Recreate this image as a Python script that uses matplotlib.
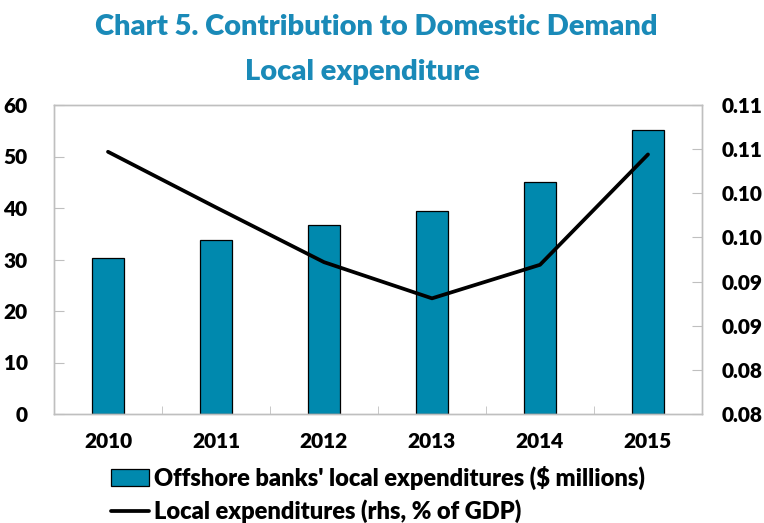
import matplotlib
matplotlib.use("Agg")
import matplotlib.pyplot as plt
import numpy as np

# ── Data ──────────────────────────────────────────────────────────────────────

years = ["2010", "2011", "2012", "2013", "2014", "2015"]
bank_spend = [30.3, 33.8, 36.7, 39.5, 45.1, 55.1]              # $ millions (lhs)
gdp_share = [0.1097, 0.1034, 0.0972, 0.0931, 0.0969, 0.1094]  # % of GDP (rhs)
lhs_ticks = [0, 10, 20, 30, 40, 50, 60]
rhs_ticks = [0.080, 0.085, 0.090, 0.095, 0.100, 0.105, 0.110, 0.115]
rhs_labels = ["0.08", "0.08", "0.09", "0.09", "0.10", "0.10", "0.11", "0.11"]

# ── Style ─────────────────────────────────────────────────────────────────────

BAR = "#0089AE"
TITLE = "#1A8AB8"
SPINE = "#BFBFBF"
FONT = ["Lato", "DejaVu Sans"]

fig = plt.figure(figsize=(7.64, 5.23), dpi=100)
ax = fig.add_axes([54 / 764, 1 - 414 / 523, 648 / 764, 309 / 523])
ax2 = ax.twinx()

x = np.arange(len(years))
ax.bar(x, bank_spend, width=0.30, color=BAR, edgecolor="black", linewidth=0.9,
       label="Offshore banks' local expenditures ($ millions)", zorder=2)
ax2.plot(x, gdp_share, color="black", linewidth=2.7, solid_capstyle="round",
         label="Local expenditures (rhs, % of GDP)")

ax.set_xlim(-0.5, len(years) - 0.5)
ax.set_ylim(0, 60)
ax2.set_ylim(0.080, 0.115)

ax.set_xticks(x)
ax.set_xticklabels(years, fontfamily=FONT, fontweight="heavy", fontsize=15)
ax.set_xticks(np.arange(0.5, len(years) - 1, 1), minor=True)
ax.tick_params(axis="x", which="major", length=0, pad=13)
ax.tick_params(axis="x", which="minor", direction="in", length=6, color=SPINE)

ax.set_yticks(lhs_ticks)
ax.set_yticklabels([str(t) for t in lhs_ticks], fontfamily=FONT,
                   fontweight="heavy", fontsize=15)
ax.tick_params(axis="y", direction="in", length=7, color=SPINE, pad=19)

ax2.set_yticks(rhs_ticks)
ax2.set_yticklabels(rhs_labels, fontfamily=FONT, fontweight="heavy", fontsize=15)
ax2.tick_params(axis="y", direction="in", length=7, color=SPINE, pad=14)

for a in (ax, ax2):
    for s in a.spines.values():
        s.set_color(SPINE)
        s.set_linewidth(1.0)

# ── Titles ────────────────────────────────────────────────────────────────────

fig.text(376 / 764, 1 - 27 / 523, "Chart 5. Contribution to Domestic Demand",
         ha="center", va="center", color=TITLE, fontsize=21,
         fontweight="heavy", family=FONT)
fig.text(362 / 764, 1 - 72 / 523, "Local expenditure",
         ha="center", va="center", color=TITLE, fontsize=21,
         fontweight="heavy", family=FONT)

# ── Legend ────────────────────────────────────────────────────────────────────

h1, l1 = ax.get_legend_handles_labels()
h2, l2 = ax2.get_legend_handles_labels()
fig.legend(h1 + h2, l1 + l2, loc="upper left",
           bbox_to_anchor=(111 / 764, 1 - 466 / 523), frameon=False,
           prop={"family": FONT, "weight": "heavy", "size": 17},
           handlelength=1.6, handletextpad=0.2, labelspacing=0.4,
           borderpad=0, borderaxespad=0)

plt.savefig("out.png", dpi=100)
plt.close()
